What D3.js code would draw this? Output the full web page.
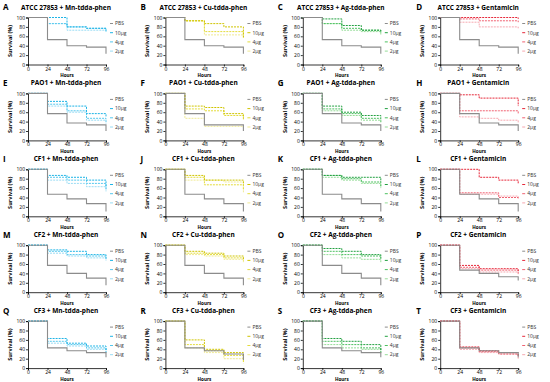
<!DOCTYPE html>
<html><head><meta charset="utf-8">
<script src="https://cdn.jsdelivr.net/npm/d3@7"></script>
<style>body{margin:0;background:#fff}svg{display:block}text{font-family:"Open Sans",sans-serif}</style>
</head><body><svg id="c" width="550" height="382"></svg>
<script>
const timePoints = [0, 24, 48, 72, 96];
const xTicks = [0, 24, 48, 72, 96];
const yTicks = [0, 20, 40, 60, 80, 100];
const panelLetters = ["A","B","C","D","E","F","G","H","I","J","K","L","M","N","O","P","Q","R","S","T"];
const strains = ["ATCC 27853","PAO1","CF1","CF2","CF3"];
const treatments = ["Mn-tdda-phen","Cu-tdda-phen","Ag-tdda-phen","Gentamicin"];
const seriesNames = ["PBS","10\u03bcg","4\u03bcg","2\u03bcg"];

// survival (%) at 0,24,48,72,96 h, one row per panel A..T
const pbsSurvival = [
  [100,53,40,37,23],[100,53,40,37,23],[100,53,40,37,23],[100,53,40,37,23],
  [100,57,37,33,20],[100,57,33,33,20],[100,57,37,33,20],[100,57,37,33,20],
  [100,47,37,27,10],[100,47,37,27,10],[100,47,37,27,10],[100,47,37,27,10],
  [100,57,40,30,15],[100,57,40,30,15],[100,57,40,30,15],[100,47,40,33,25],
  [100,43,37,33,23],[100,43,37,30,17],[100,43,37,33,23],[100,43,37,33,23]
];
const dose10Survival = [
  [100,100,80,77,73],[100,93,87,80,57],[100,97,83,73,70],[100,100,100,100,97],
  [100,83,73,57,50],[100,73,70,57,47],[100,73,60,53,47],[100,97,90,90,73],
  [100,87,83,77,63],[100,87,77,77,67],[100,87,83,83,73],[100,100,83,77,70],
  [100,90,87,80,73],[100,87,83,77,70],[100,93,87,80,73],[100,57,50,50,43],
  [100,63,53,47,37],[100,60,40,33,17],[100,63,57,50,37],[100,45,37,33,27]
];
const dose4Survival = [
  [100,87,80,77,70],[100,93,70,70,63],[100,87,77,73,67],[100,97,93,93,90],
  [100,77,63,47,40],[100,67,63,53,43],[100,67,57,47,40],[100,63,63,63,57],
  [100,83,77,70,57],[100,83,67,67,57],[100,87,80,73,63],[100,50,50,40,37],
  [100,87,80,77,70],[100,83,80,73,67],[100,87,80,77,70],[100,53,47,47,40],
  [100,57,50,43,33],[100,50,37,27,13],[100,57,50,43,33],[100,43,35,30,23]
];
const dose2Survival = [
  [100,87,73,73,70],[100,93,63,63,57],[100,87,73,70,63],[100,90,80,80,77],
  [100,73,60,43,35],[100,47,30,30,27],[100,63,53,43,37],[100,50,47,43,37],
  [100,77,70,63,53],[100,77,77,73,50],[100,83,77,70,60],[100,47,47,43,37],
  [100,83,77,73,67],[100,80,77,70,63],[100,80,73,70,63],[100,50,43,43,37],
  [100,53,47,40,30],[100,43,33,20,10],[100,50,43,40,30],[100,40,33,30,20]
];
const treatmentColors = [
  ["#1eb4e6","#55c8ee","#9adcf4"],
  ["#cfc400","#e4dc3c","#f0ea94"],
  ["#22a040","#4cc060","#96dc98"],
  ["#e6283a","#f06272","#f6a8b0"]
];
const pbsColor = "#8c8c8c";

const svg = d3.select("#c");
const x = d3.scaleLinear().domain([0,96]).range([0,78]);
const y = d3.scaleLinear().domain([0,100]).range([47,0]);
const line = d3.line().x((d,i)=>x(timePoints[i])).y(d=>y(d)).curve(d3.curveStepAfter);

for (let p = 0; p < 20; p++) {
  const r = Math.floor(p/4), c = p % 4;
  const ox = 28 + c*137.4, oy = 17.5 + r*75.9;
  const g = svg.append("g").attr("transform",`translate(${ox},${oy})`);
  // title
  svg.append("text").attr("x", ox-25 + (c===3?1:0)).attr("y", oy-7.5).attr("font-size",8).attr("font-weight","bold").text(panelLetters[p]);
  svg.append("text").attr("x", ox+38).attr("y", oy-8).attr("text-anchor","middle").attr("font-size",6.5).attr("font-weight","bold").text(strains[r]+" + "+treatments[c]);
  // axes
  const ya = g.append("g").call(d3.axisLeft(y).tickValues(yTicks).tickSize(2).tickPadding(1));
  const xa = g.append("g").attr("transform","translate(0,47)").call(d3.axisBottom(x).tickValues(xTicks).tickSize(2).tickPadding(0.5));
  [ya,xa].forEach(a=>{a.selectAll("path,line").attr("stroke","#000").attr("stroke-width",0.8);a.selectAll("text").attr("font-size",5).attr("fill","#000").attr("font-family","Open Sans, sans-serif");});
  g.append("text").attr("transform","rotate(-90)").attr("x",-23.5).attr("y",-16).attr("text-anchor","middle").attr("font-size",5.5).attr("font-weight","bold").text("Survival (%)");
  g.append("text").attr("x",39).attr("y",59.5).attr("text-anchor","middle").attr("font-size",4.6).attr("font-weight","bold").text("Hours");
  // curves
  const sets = [pbsSurvival[p], dose10Survival[p], dose4Survival[p], dose2Survival[p]];
  const cols = [pbsColor].concat(treatmentColors[c]);
  for (let s = 3; s >= 0; s--) {
    g.append("path").attr("d", line(sets[s])).attr("fill","none").attr("stroke",cols[s])
      .attr("stroke-width", s===0?1.1:1).attr("stroke-dasharray", s===0?null:"2,1");
  }
  // legend
  seriesNames.forEach((n,i)=>{
    const ly = 6 + i*9.2;
    g.append("line").attr("x1",82).attr("x2",85).attr("y1",ly).attr("y2",ly).attr("stroke",cols[i]).attr("stroke-width",1);
    g.append("text").attr("x",87).attr("y",ly+1.8).attr("font-size",5).attr("fill","#333").text(n);
  });
}
</script></body></html>
